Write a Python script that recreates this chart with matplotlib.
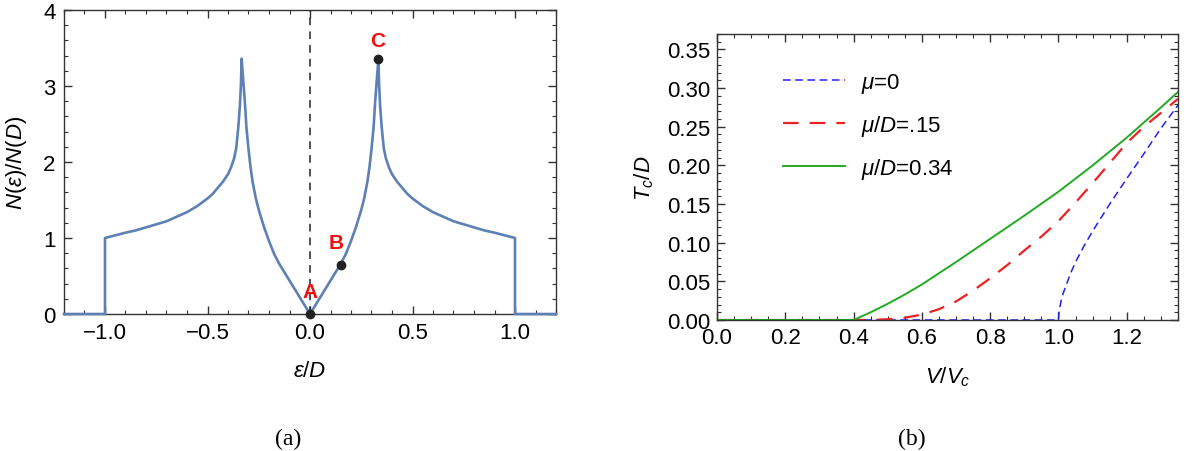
import numpy as np
import matplotlib
matplotlib.use("Agg")
import matplotlib.pyplot as plt
from matplotlib.ticker import MultipleLocator, FuncFormatter

plt.rcParams['font.family'] = ['Liberation Sans', 'DejaVu Sans']
plt.rcParams['mathtext.fontset'] = 'custom'
plt.rcParams['mathtext.rm'] = 'Liberation Sans'
plt.rcParams['mathtext.it'] = 'Liberation Sans:italic'
plt.rcParams['mathtext.bf'] = 'Liberation Sans:bold'

# (a) density of states, right half (symmetric)
eps_pos = [0.0, 0.025, 0.05, 0.075, 0.10, 0.125, 0.15, 0.175, 0.20, 0.225, 0.25,
           0.265, 0.28, 0.29, 0.30, 0.31, 0.318, 0.325, 0.33, 0.3333,
           0.337, 0.342, 0.35, 0.36, 0.37, 0.385, 0.40, 0.425, 0.45, 0.475, 0.50,
           0.55, 0.60, 0.65, 0.70, 0.75, 0.80, 0.85, 0.90, 0.95, 1.0]
dos_pos = [0.0, 0.11, 0.22, 0.33, 0.44, 0.55, 0.66, 0.79, 0.96, 1.15, 1.37,
           1.53, 1.74, 1.93, 2.17, 2.45, 2.80, 3.05, 3.22, 3.36,
           3.02, 2.74, 2.45, 2.18, 2.05, 1.93, 1.84, 1.74, 1.66, 1.58, 1.52,
           1.42, 1.34, 1.28, 1.22, 1.18, 1.14, 1.10, 1.07, 1.035, 1.0]

# marked points A, B, C
pt_names = ['A', 'B', 'C']
pt_eps = [0.0, 0.15, 0.3333]
pt_dos = [0.0, 0.65, 3.36]

# (b) critical temperature vs coupling
v_green = [0.0, 0.4, 0.45, 0.5, 0.55, 0.6, 0.7, 0.8, 0.9, 1.0, 1.1, 1.2, 1.3, 1.35]
tc_green = [0.0, 0.0, 0.010, 0.021, 0.033, 0.046, 0.075, 0.105, 0.135, 0.166, 0.200,
            0.236, 0.275, 0.295]

v_red = [0.0, 0.45, 0.5, 0.55, 0.6, 0.65, 0.7, 0.75, 0.8, 0.85, 0.9, 0.95, 1.0,
         1.05, 1.1, 1.15, 1.2, 1.25, 1.3, 1.35]
tc_red = [0.0, 0.0, 0.001, 0.003, 0.007, 0.014, 0.024, 0.038, 0.054, 0.071, 0.090,
          0.108, 0.128, 0.152, 0.177, 0.203, 0.229, 0.250, 0.268, 0.286]

v_blue = [0.0, 1.0, 1.002, 1.01, 1.02, 1.035, 1.05, 1.075, 1.1, 1.15, 1.2, 1.25,
          1.3, 1.35]
tc_blue = [0.0, 0.0, 0.012, 0.030, 0.042, 0.060, 0.075, 0.096, 0.115, 0.150, 0.183,
           0.215, 0.248, 0.278]

labels_b = [r'$\mu$=0', r'$\mu/D$=.15', r'$\mu/D$=0.34']

W, H = 1194, 452
fig = plt.figure(figsize=(W / 100, H / 100), dpi=100)

frame_col = '#333333'


def style_frame(ax):
    for s in ax.spines.values():
        s.set_color(frame_col)
        s.set_linewidth(1.0)
    ax.tick_params(which='both', direction='in', top=True, right=True, color=frame_col)
    ax.tick_params(which='major', length=6, width=1.0)
    ax.tick_params(which='minor', length=3, width=0.8)


def fmt(digits):
    return FuncFormatter(lambda v, p: ('%.*f' % (digits, v)).replace('-', '\u2212'))


# ---------- (a) ----------
ax1 = fig.add_axes([64 / W, 1 - 315 / H, (556 - 64) / W, (315 - 11) / H])
eps = np.array(eps_pos)
dos = np.array(dos_pos)
x_full = np.concatenate([[-1.2, -1.0], -eps[::-1], eps[1:], [1.0, 1.2]])
y_full = np.concatenate([[0.0, 0.0], dos[::-1], dos[1:], [0.0, 0.0]])
ax1.plot(x_full, y_full, color='#5E81B5', lw=1.9, clip_on=False, zorder=3)
ax1.plot([0, 0], [0, 4], color='#222222', lw=1.1, ls=(0, (5, 4)), zorder=2)
ax1.plot(pt_eps, pt_dos, 'o', color='#222222', ms=6, clip_on=False, zorder=4)
ax1.text(0.0, 0.30, pt_names[0], color='#ee1111', fontsize=15, fontweight='bold',
         ha='center', va='center')
ax1.text(0.128, 0.94, pt_names[1], color='#ee1111', fontsize=15, fontweight='bold',
         ha='center', va='center')
ax1.text(0.33, 3.6, pt_names[2], color='#ee1111', fontsize=15, fontweight='bold',
         ha='center', va='center')
ax1.set_xlim(-1.2, 1.2)
ax1.set_ylim(0, 4)
ax1.xaxis.set_major_locator(MultipleLocator(0.5))
ax1.xaxis.set_minor_locator(MultipleLocator(0.1))
ax1.yaxis.set_major_locator(MultipleLocator(1))
ax1.yaxis.set_minor_locator(MultipleLocator(0.2))
ax1.xaxis.set_major_formatter(fmt(1))
ax1.yaxis.set_major_formatter(fmt(0))
style_frame(ax1)
ax1.tick_params(labelsize=16, pad=6)
ax1.set_xlabel(r'$\varepsilon/D$', fontsize=16, labelpad=12)
ax1.set_ylabel(r'$N(\varepsilon)/N(D)$', fontsize=16, labelpad=10)
fig.text(288 / W, 1 - 439 / H, '(a)', fontsize=17, family='Liberation Serif',
         ha='center', va='center')

# ---------- (b) ----------
ax2 = fig.add_axes([717 / W, 1 - 321 / H, (1178 - 717) / W, (321 - 35) / H])
ax2.plot(v_blue, tc_blue, color='#2222ee', lw=1.1, ls=(0, (5, 3)), label=labels_b[0])
ax2.plot(v_red, tc_red, color='#ee2222', lw=1.6, ls=(0, (7, 5)), label=labels_b[1])
ax2.plot(v_green, tc_green, color='#22aa22', lw=1.4, label=labels_b[2])
ax2.set_xlim(0, 1.35)
ax2.set_ylim(0, 0.37)
ax2.xaxis.set_major_locator(MultipleLocator(0.2))
ax2.xaxis.set_minor_locator(MultipleLocator(0.05))
ax2.yaxis.set_major_locator(MultipleLocator(0.05))
ax2.yaxis.set_minor_locator(MultipleLocator(0.01))
ax2.xaxis.set_major_formatter(fmt(1))
ax2.yaxis.set_major_formatter(fmt(2))
style_frame(ax2)
ax2.tick_params(labelsize=16, pad=5)
ax2.set_xlabel(r'$V/V_c$', fontsize=16, labelpad=12)
ax2.set_ylabel(r'$T_c/D$', fontsize=16, labelpad=8)
ax2.legend(loc='upper left', bbox_to_anchor=(0.1, 0.94), frameon=False, fontsize=16,
           handlelength=2.8, labelspacing=0.8, handletextpad=0.7)
fig.text(912 / W, 1 - 439 / H, '(b)', fontsize=17, family='Liberation Serif',
         ha='center', va='center')

fig.savefig('out.png', dpi=100)
